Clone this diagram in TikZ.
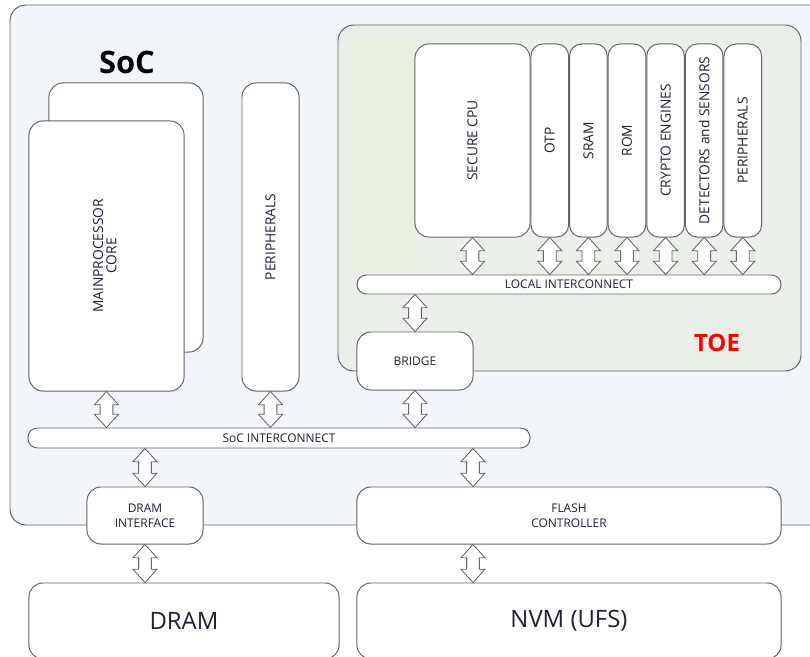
\documentclass[tikz,border=0pt]{standalone}
\usepackage{fontspec}
\setmainfont{Open Sans}
\usepackage{xcolor}
\usepackage{graphicx}
\usepackage{tikz}
\usetikzlibrary{positioning, calc}

\definecolor{socfill}{RGB}{242,245,249}
\definecolor{toefill}{RGB}{235,239,233}
\definecolor{stripfill}{RGB}{232,240,223}
\definecolor{edge}{RGB}{100,100,100}
\definecolor{labeltext}{RGB}{30,35,50}

% hollow double arrow between two anchors (vertical, x taken from the first)
\newcommand{\busarrow}[2]{%
  \path[bus arrow] let \p1=(#1), \p2=(#2) in
    (\x1,\y1) -- (\x1+0.3cm,\y1-0.33cm) -- (\x1+0.16cm,\y1-0.33cm)
    -- (\x1+0.16cm,\y2+0.33cm) -- (\x1+0.3cm,\y2+0.33cm) -- (\x1,\y2)
    -- (\x1-0.3cm,\y2+0.33cm) -- (\x1-0.16cm,\y2+0.33cm)
    -- (\x1-0.16cm,\y1-0.33cm) -- (\x1-0.3cm,\y1-0.33cm) -- cycle;}

\begin{document}
\begin{tikzpicture}[x=0.025cm, y=-0.025cm,
    block/.style={draw=edge, line width=0.7pt, fill=white, rounded corners=0.35cm,
      inner sep=0pt, align=center, text=labeltext, font=\fontsize{8.5}{10.5}\selectfont},
    upright/.style={font=\fontsize{9.8}{11.5}\selectfont},
    bus/.style={block, rounded corners=0.24cm},
    slim/.style={block, upright, rounded corners=0.3cm, minimum width=0.94cm, minimum height=4.825cm},
    bus arrow/.style={draw=edge, line width=0.6pt, fill=white, line join=miter}]
    \useasboundingbox (0,0) rectangle (810,657);

    % SoC and TOE areas
    \draw[draw=edge, line width=0.7pt, fill=socfill, rounded corners=0.4cm] (10,5) rectangle (830,525);
    \draw[draw=edge, line width=0.7pt, fill=toefill, rounded corners=0.4cm] (338,25) rectangle (801,371);
    \fill[stripfill] (352,37) rectangle (415,272);

    \node[font=\fontsize{22}{26}\selectfont\bfseries] (soclabel) at (127,62) {SoC};
    \node[text=red, font=\fontsize{17}{20}\selectfont\bfseries] (toelabel) at (717,343) {TOE};

    % main processor and peripherals
    \node[block, minimum width=3.85cm, minimum height=6.725cm] (coreback) at (126,217.5) {};
    \node[block, upright, minimum width=3.875cm, minimum height=6.75cm] (core) at (106.5,256)
      {\rotatebox{90}{\begin{tabular}{@{}c@{}}MAINPROCESSOR\\[-2pt]CORE\end{tabular}}};
    \node[block, upright, minimum width=1.425cm, minimum height=7.7cm] (socperiph) at (270.5,237)
      {\rotatebox{90}{PERIPHERALS}};

    % TOE modules
    \node[block, upright, minimum width=2.875cm, minimum height=4.825cm] (secure) at (472.5,140.5)
      {\rotatebox{90}{SECURE CPU}};
    \node[slim, right=0pt of secure] (otp) {\rotatebox{90}{OTP}};
    \node[slim, right=0pt of otp] (sram) {\rotatebox{90}{SRAM}};
    \node[slim, right=0pt of sram] (rom) {\rotatebox{90}{ROM}};
    \node[slim, right=0pt of rom] (crypto) {\rotatebox{90}{CRYPTO ENGINES}};
    \node[slim, right=0pt of crypto] (detect) {\rotatebox{90}{DETECTORS and SENSORS}};
    \node[slim, right=0pt of detect] (tperiph) {\rotatebox{90}{PERIPHERALS}};

    \node[bus, minimum width=10.6cm, minimum height=0.475cm] (local) at (569,284.5) {LOCAL INTERCONNECT};
    \node[block, minimum width=2.9cm, minimum height=1.45cm] (bridge) at (415,361) {BRIDGE};

    % interconnect and external side
    \node[bus, minimum width=12.55cm, minimum height=0.5cm] (intc) at (279,438) {SoC INTERCONNECT};
    \node[block, minimum width=2.9cm, minimum height=1.425cm] (dramif) at (145,515.5) {DRAM\\INTERFACE};
    \node[block, minimum width=10.6cm, minimum height=1.425cm] (flash) at (569,515.5) {FLASH\\CONTROLLER};
    \coordinate (flashport) at (473,487);
    \node[block, minimum width=7.75cm, minimum height=1.9cm, font=\fontsize{17}{20}\selectfont] (dram) at (184,621) {DRAM};
    \node[block, minimum width=10.6cm, minimum height=1.9cm, font=\fontsize{17}{20}\selectfont] (nvm) at (569,621) {NVM (UFS)};

    % connections
    \foreach \m in {secure,otp,sram,rom,crypto,detect,tperiph}
      \busarrow{\m.south}{local.north};
    \busarrow{local.south -| bridge}{bridge.north}
    \busarrow{core.south}{intc.north}
    \busarrow{socperiph.south}{intc.north}
    \busarrow{bridge.south}{intc.north}
    \busarrow{intc.south -| dramif}{dramif.north}
    \busarrow{intc.south -| flashport}{flash.north}
    \busarrow{dramif.south}{dram.north}
    \busarrow{flash.south -| flashport}{nvm.north}
\end{tikzpicture}
\end{document}
